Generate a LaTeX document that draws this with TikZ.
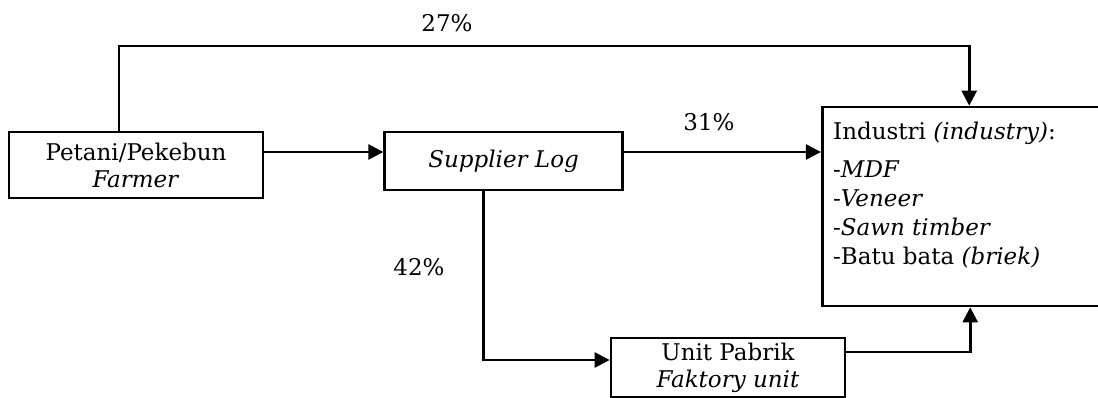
\documentclass[tikz,border=0pt]{standalone}
\usepackage{fontspec}
\setmainfont{DejaVu Serif}
\usepackage{tikz}
\usetikzlibrary{positioning}
\usetikzlibrary{arrows.meta}
\tikzset{>=stealth}
\tikzstyle{line} = [draw, line width=2.6pt, -{Triangle[length=15pt,width=15pt]}]

\begin{document}
\begin{tikzpicture}[x=1pt, y=-1pt,
      font=\fontsize{23}{27}\selectfont,
      box/.style={draw,
      line width=2.6pt,
      rectangle,
      align=center,
      inner sep=0pt},
      pct/.style={inner sep=0pt}]
    \useasboundingbox (0,0) rectangle (1098,398);
    \node [box, minimum width=254pt, minimum height=66pt] (farmer) at (136,165) {Petani/Pekebun\\\textit{Farmer}};
    \node [box, minimum width=238pt, minimum height=58pt, right=119pt of farmer.north east, anchor=north west] (supplier) {\textit{Supplier Log}};
    \node [box, minimum width=280pt, minimum height=199pt, above right=25pt and 197pt of supplier.north east, anchor=north west] (industry) {};
    \node [align=left, inner sep=0pt, anchor=north west, font=\fontsize{23}{29}\selectfont] (list) at (833,122)
      {Industri \textit{(industry)}:\\[9pt]-\textit{MDF}\\-\textit{Veneer}\\-\textit{Sawn timber}\\-Batu bata \textit{(briek)}};
    \node [box, minimum width=234pt, minimum height=59pt] (unit) at (728,367.5) {Unit Pabrik\\\textit{Faktory unit}};
    \coordinate (top) at (500,46);
    \coordinate (f1) at ([yshift=13pt]farmer.east);
    \coordinate (s1) at ([yshift=9pt]supplier.east);
    \coordinate (s2) at ([xshift=-20pt]supplier.south);
    \coordinate (u1) at ([yshift=7.5pt]unit.west);
    \coordinate (u2) at ([yshift=15.5pt]unit.east);
    %% Flows
    \path [line] ([xshift=-17pt]farmer.north) |- (top) -| ([xshift=7pt]industry.north);
    \path [line] (f1) -- (f1 -| supplier.west);
    \path [line] (s1) -- (s1 -| industry.west);
    \path [line] (s2) |- (u1);
    \path [line] (u2) -| ([xshift=8pt]industry.south);
    \node [pct] (p27) at (447,23) {27\%};
    \node [pct] (p31) at (709,122) {31\%};
    \node [pct] (p42) at (419,267) {42\%};
  \end{tikzpicture}
\end{document}
